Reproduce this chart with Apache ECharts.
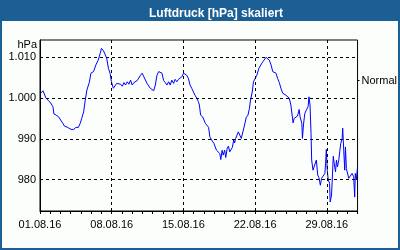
<!DOCTYPE html>
<html><head><meta charset="utf-8">
<script src="https://cdn.jsdelivr.net/npm/echarts@6/dist/echarts.min.js"></script>
<style>html,body{margin:0;padding:0;background:#fcfefc}#c{width:400px;height:250px}</style>
</head><body><div id="c"></div>
<script>
const chartTitle = 'Luftdruck [hPa] skaliert';
const monthSuffix = '.08.16';

// time in days since 01.08.16 00:00
const dayOffsets = [
0.07,0.29,0.45,0.58,0.77,1.04,1.26,1.36,1.58,1.81,2.00,2.23,2.39,2.71,3.03,3.29,3.51,3.75,3.94,4.07,
4.26,4.42,4.58,4.81,4.97,5.23,5.45,5.68,5.88,6.00,6.20,6.39,6.51,6.68,6.84,6.97,7.16,7.33,7.48,7.65,
7.87,8.03,8.20,8.35,8.52,8.68,8.84,9.00,9.17,9.32,9.49,9.65,9.81,9.97,10.14,10.29,10.45,10.62,10.77,10.94,
11.10,11.26,11.42,11.59,11.74,11.91,12.07,12.23,12.39,12.56,12.71,12.87,13.04,13.19,13.36,13.52,13.68,13.84,14.01,14.16,
14.33,14.49,14.65,14.81,14.98,15.13,15.30,15.46,
15.56,15.68,15.88,16.00,16.14,16.33,16.46,16.58,16.75,16.84,16.97,17.07,17.23,17.40,17.55,17.65,17.78,17.88,18.03,18.13,
18.27,18.39,18.52,18.68,18.78,18.91,19.00,19.10,19.24,19.36,19.49,19.65,19.82,19.97,20.14,20.30,20.45,20.55,20.72,20.84,
20.98,21.17,21.37,21.49,21.62,21.75,21.91,22.07,22.24,22.39,22.56,22.72,22.87,23.04,23.20,
23.36,23.52,23.69,23.84,24.01,24.17,24.33,24.49,24.66,24.71,24.81,24.98,25.14,25.30,25.39,25.56,25.62,25.72,25.85,26.01,
26.17,26.26,26.36,26.46,26.52,26.65,26.84,26.98,27.11,27.23,27.37,27.49,27.66,27.81,27.88,27.95,28.04,28.14,28.27,28.33,
28.46,28.53,28.63,28.72,28.85,28.94,29.04,29.17,29.26,29.36,29.50,29.55,29.65,29.75,29.82,29.91,30.01,30.14,30.30,30.46,
30.62,30.72,30.78,30.88,30.98
];

// pressure in hPa
const pressure = [
1001.2,1001.8,1001.5,1000.0,999.5,998.8,997.9,996.1,995.8,995.4,995.0,993.8,993.1,992.8,992.3,992.3,992.8,992.8,993.9,995.0,
996.6,999.5,1002.0,1003.8,1006.1,1006.5,1008.1,1009.3,1011.0,1012.2,1011.6,1011.4,1009.8,1007.3,1006.1,1004.0,1002.4,1002.8,1003.6,1003.2,
1003.4,1002.9,1003.8,1003.2,1004.0,1003.4,1004.4,1003.2,1003.8,1003.4,1004.3,1004.0,1005.6,1006.1,1005.2,1004.8,1003.6,1003.2,1002.4,1002.1,
1001.8,1003.2,1005.6,1006.5,1006.1,1006.1,1004.3,1003.8,1003.2,1004.0,1003.2,1004.4,1003.6,1004.6,1004.0,1004.6,1004.3,1005.2,1006.1,1006.1,
1005.6,1004.8,1003.2,1002.4,1002.1,1000.7,1000.0,999.1,
998.3,995.8,995.4,995.6,993.8,993.4,992.8,990.5,989.7,990.1,988.9,988.5,987.2,986.8,986.4,984.9,987.2,986.0,987.2,985.4,
987.6,988.2,986.8,986.4,987.9,989.7,989.0,990.1,990.5,991.7,991.3,990.1,990.5,993.4,995.3,995.8,997.5,999.5,1001.5,1004.0,
1004.4,1005.6,1007.3,1007.7,1008.4,1008.9,1009.3,1010.0,1010.0,1009.3,1008.1,1006.5,1006.5,1006.1,1004.8,
1003.8,1002.4,1001.2,1001.3,1000.7,1000.3,1000.0,998.3,997.9,993.9,995.0,995.3,995.6,997.2,995.4,993.8,990.1,993.4,996.2,997.1,
997.9,1000.3,998.3,991.3,984.8,982.3,981.9,984.8,981.1,980.5,978.6,980.3,980.7,981.5,984.0,987.4,982.3,979.9,979.1,974.5,
976.2,979.9,985.7,984.0,981.9,984.8,983.1,984.8,986.8,988.9,990.1,992.6,987.2,982.3,988.0,982.7,982.3,980.3,979.9,981.5,
980.7,975.7,981.5,979.9,982.7
];

const xLabelDays = [0, 7, 14, 21, 28];
const xTickDays = [0,1,2,3,4,5,6,7,8,9,10,11,12,13,14,15,16,17,18,19,20,21,22,23,24,25,26,27,28,29,30,31];
const yLabelValues = [980, 990, 1000, 1010];
const normalValue = 1004.3;
const xMin = 0, xMax = 31;
const yMin = 972.28, yMax = 1014.25;

const FONT = 'Liberation Sans';
const chart = echarts.init(document.getElementById('c'), null, {renderer: 'canvas'});

function fmtDay(d) { return String(Math.round(d) + 1).padStart(2, '0') + monthSuffix; }
function fmtHpa(v) {
  v = Math.round(v);
  return v >= 1000 ? Math.floor(v / 1000) + '.' + String(v % 1000).padStart(3, '0') : String(v);
}

const dashStyle = {color: '#000', width: 1, type: [3, 3]};

chart.setOption({
  animation: false,
  backgroundColor: '#fcfefc',
  textStyle: {fontFamily: FONT},
  title: {
    text: chartTitle, left: 211, top: 3, textAlign: 'center',
    textStyle: {color: '#ffffff', fontSize: 12, fontWeight: 'bold', fontFamily: FONT}
  },
  graphic: [
    {type: 'rect', shape: {x: 0, y: 0, width: 400, height: 21}, style: {fill: '#1b5f95'}, silent: true},
    {type: 'rect', shape: {x: 1, y: 1, width: 398, height: 248}, style: {fill: 'none', stroke: '#1b5f95', lineWidth: 2}, silent: true}
  ],
  grid: {left: 40, top: 40, right: 40, bottom: 39, show: true, borderColor: '#000', borderWidth: 1, backgroundColor: 'transparent'},
  xAxis: {
    type: 'value', min: xMin, max: xMax,
    axisLine: {show: true, lineStyle: {color: '#000', width: 1}},
    axisTick: {show: true, customValues: xTickDays, length: 3, lineStyle: {color: '#000'}},
    axisLabel: {customValues: xLabelDays, formatter: fmtDay, color: '#000', fontSize: 11, fontFamily: FONT, margin: 8},
    splitLine: {show: false}
  },
  yAxis: [
    {
      type: 'value', min: yMin, max: yMax,
      name: 'hPa', nameLocation: 'end', nameGap: -5,
      nameTextStyle: {color: '#000', fontSize: 11, fontFamily: FONT, align: 'right', verticalAlign: 'middle', padding: [0, 3, 0, 0]},
      axisLine: {show: true, lineStyle: {color: '#000', width: 1}},
      axisTick: {show: false},
      axisLabel: {customValues: yLabelValues, formatter: fmtHpa, color: '#000', fontSize: 11, fontFamily: FONT, margin: 4},
      splitLine: {show: false}
    },
    {
      type: 'value', position: 'right', min: yMin, max: yMax,
      axisLine: {show: false},
      axisTick: {show: true, customValues: [normalValue], length: 2, lineStyle: {color: '#000'}},
      axisLabel: {customValues: [normalValue], formatter: () => 'Normal', color: '#000', fontSize: 11, fontFamily: FONT, margin: 4},
      splitLine: {show: false}
    }
  ],
  series: [
    {
      type: 'line', data: [], z: 1, silent: true,
      markLine: {
        silent: true, symbol: 'none', label: {show: false}, animation: false,
        lineStyle: dashStyle,
        data: xLabelDays.filter(d => d > xMin).map(d => ({xAxis: d}))
          .concat(yLabelValues.map(v => ({yAxis: v})))
      }
    },
    {
      type: 'line', z: 3,
      data: dayOffsets.map((d, i) => [d, pressure[i]]),
      showSymbol: false, symbol: 'none',
      lineStyle: {color: '#0000ff', width: 1}
    }
  ]
});
</script></body></html>
